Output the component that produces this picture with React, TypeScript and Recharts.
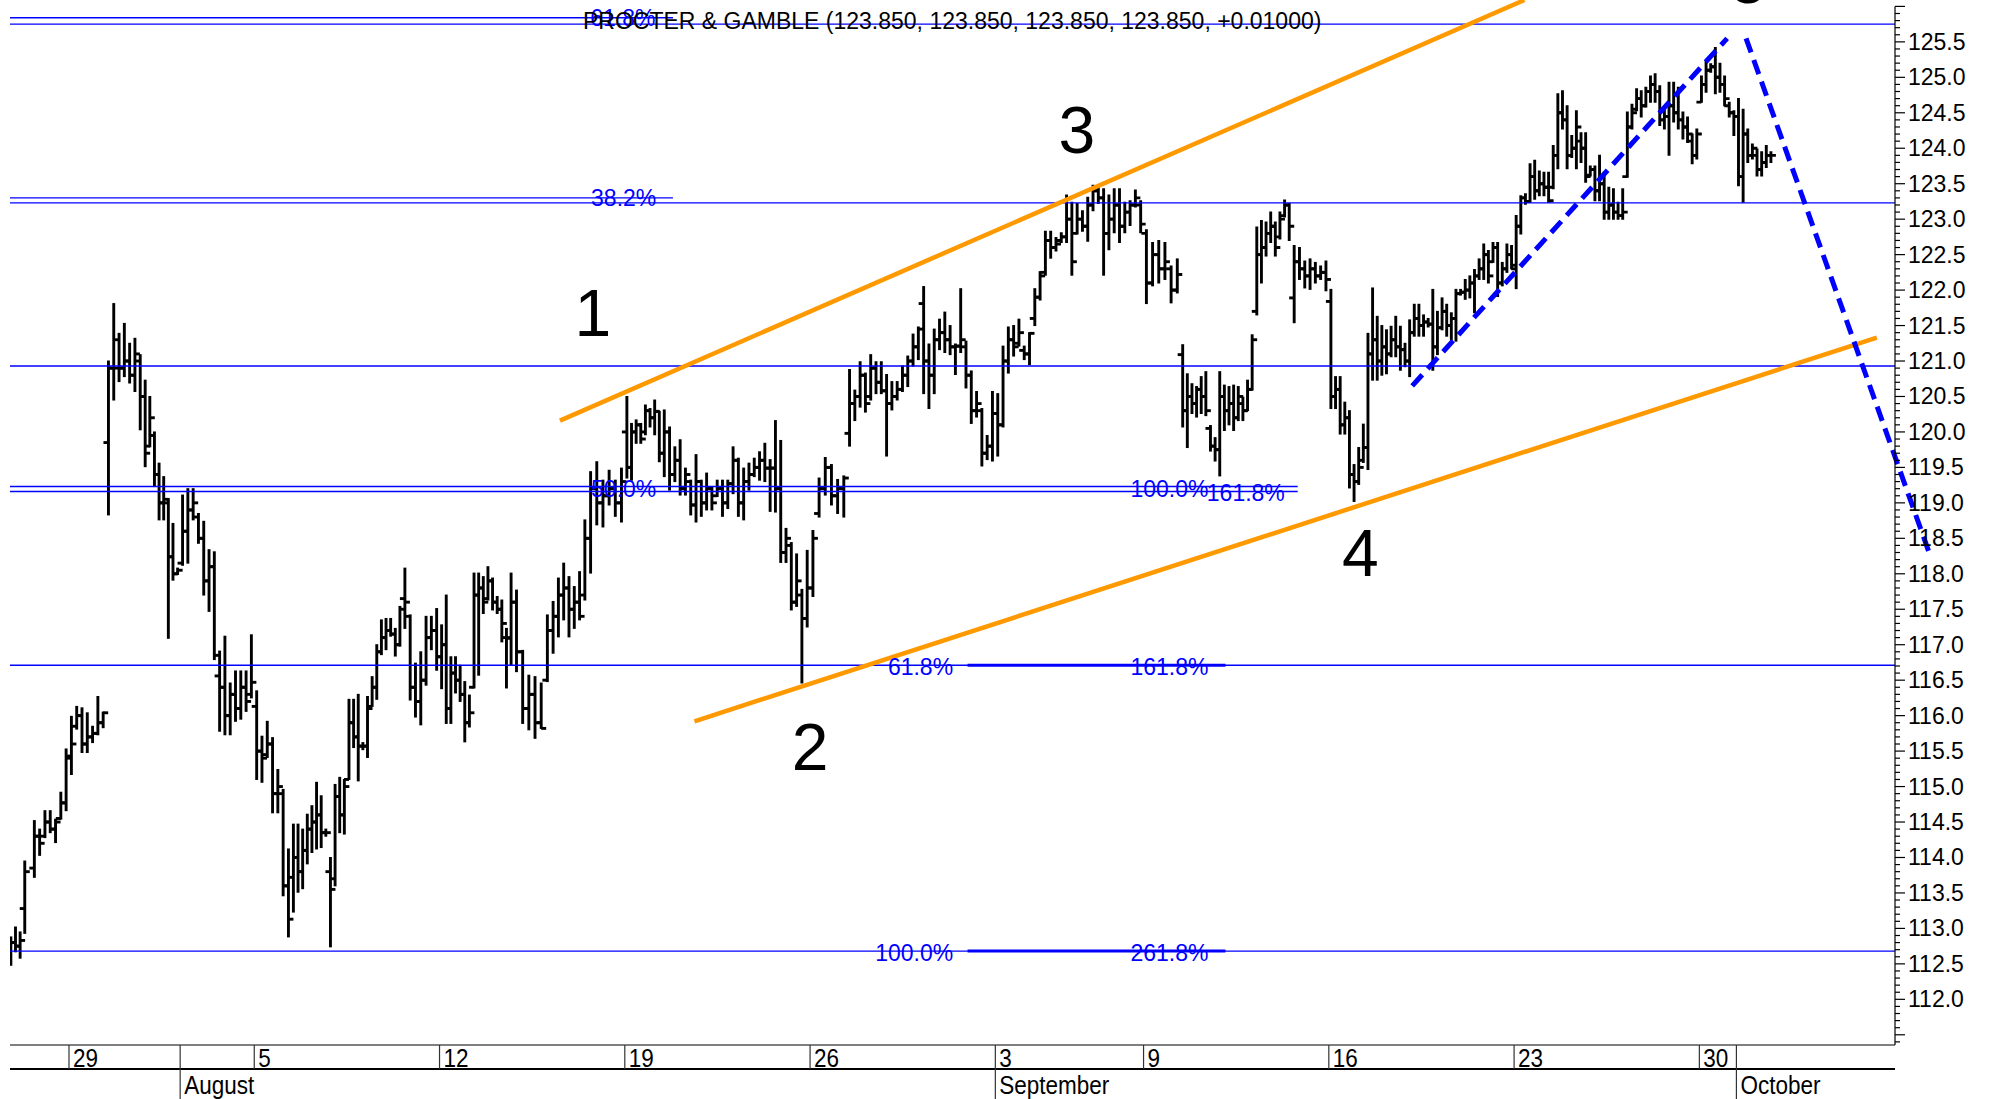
import React from 'react';
import {
  ComposedChart,
  Bar,
  XAxis,
  YAxis,
  ReferenceLine,
  ReferenceDot,
} from 'recharts';

type Ohlc = [number, number, number, number]; // open, high, low, close

// ~hourly bars per trading day
const jul25: Ohlc[] = [
  [112.55, 112.88, 112.48, 112.8], [112.8, 113.02, 112.67, 112.75], [112.75, 112.95, 112.58, 112.83],
  [113.28, 113.95, 112.93, 113.8],
];
const jul26: Ohlc[] = [
  [113.85, 114.52, 113.72, 114.3], [114.3, 114.4, 114.03, 114.2], [114.3, 114.66, 114.28, 114.5],
  [114.5, 114.66, 114.35, 114.4], [114.4, 114.54, 114.21, 114.5], [114.55, 114.92, 114.54, 114.77],
  [114.77, 115.53, 114.66, 115.43],
];
const jul29: Ohlc[] = [
  [115.4, 115.99, 115.17, 115.6], [115.85, 116.13, 115.81, 116.0], [116.0, 116.11, 115.48, 115.6],
  [115.6, 116.04, 115.48, 115.7], [115.7, 115.85, 115.62, 115.75], [115.75, 116.27, 115.73, 115.9],
  [115.9, 116.05, 115.83, 116.04],
];
const jul30: Ohlc[] = [
  [119.85, 121.0, 118.83, 120.9], [120.9, 121.81, 120.45, 120.9], [121.3, 121.39, 120.71, 120.9],
  [120.9, 121.53, 120.78, 121.0], [121.0, 121.25, 120.69, 120.8], [120.8, 121.32, 120.57, 121.1],
  [121.0, 121.09, 120.03, 120.5],
];
const jul31: Ohlc[] = [
  [120.5, 120.73, 119.51, 119.7], [119.8, 120.5, 119.79, 120.2], [119.95, 120.0, 119.23, 119.4],
  [119.4, 119.56, 118.76, 119.0], [119.0, 119.37, 118.76, 119.05], [119.0, 119.06, 117.09, 118.24],
  [118.24, 118.71, 117.91, 118.0], [118.0, 118.08, 117.99, 118.05],
];
const aug1: Ohlc[] = [
  [118.15, 119.11, 118.12, 118.6], [118.6, 119.2, 118.15, 118.9], [118.9, 119.2, 118.76, 119.0],
  [118.8, 118.85, 118.43, 118.5], [118.5, 118.74, 117.7, 117.9], [117.9, 118.34, 117.47, 118.1],
  [118.1, 118.31, 116.79, 116.85],
];
const aug2: Ohlc[] = [
  [116.56, 116.91, 115.78, 116.4], [116.4, 117.12, 115.73, 116.0], [116.0, 116.46, 115.73, 116.3],
  [116.3, 116.63, 115.92, 116.1], [116.1, 116.63, 115.95, 116.4], [116.4, 116.63, 116.06, 116.2],
  [116.3, 117.14, 116.25, 116.47],
];
const aug5: Ohlc[] = [
  [116.13, 116.35, 115.1, 115.5], [115.5, 115.71, 115.06, 115.4], [115.45, 115.92, 115.41, 115.6],
  [115.6, 115.69, 114.63, 114.9], [114.9, 115.24, 114.63, 115.0], [114.9, 114.96, 113.46, 113.6],
  [113.6, 114.12, 112.88, 113.13],
];
const aug6: Ohlc[] = [
  [113.72, 114.47, 113.23, 114.0], [114.0, 114.47, 113.51, 113.8], [113.8, 114.4, 113.56, 114.1],
  [114.1, 114.61, 113.91, 114.4], [114.4, 114.73, 114.07, 114.5], [114.5, 115.06, 114.12, 114.6],
  [114.6, 114.87, 114.14, 114.35], [114.35, 114.4, 114.3, 114.35],
];
const aug7: Ohlc[] = [
  [113.8, 114.0, 112.74, 113.55], [113.7, 115.03, 113.6, 114.86], [114.86, 115.13, 114.35, 114.6],
  [114.6, 115.1, 114.33, 115.0], [115.1, 116.23, 115.1, 115.9], [115.9, 116.23, 115.55, 115.7],
  [115.7, 116.3, 115.08, 115.57], [115.57, 115.62, 115.52, 115.57],
];
const aug8: Ohlc[] = [
  [115.57, 116.27, 115.41, 116.1], [116.13, 116.55, 116.13, 116.4], [116.4, 117.0, 116.23, 116.9],
  [116.9, 117.35, 116.86, 117.1], [117.1, 117.37, 116.93, 117.2], [117.2, 117.37, 117.12, 117.15],
  [117.15, 117.23, 116.84, 117.0], [117.0, 117.54, 116.98, 117.5],
];
const aug9: Ohlc[] = [
  [117.65, 118.08, 117.23, 117.6], [117.4, 117.42, 116.22, 116.4], [116.4, 116.74, 115.98, 116.2],
  [116.2, 116.9, 115.87, 116.5], [116.5, 117.4, 116.43, 117.1], [117.1, 117.4, 116.93, 117.2],
  [117.2, 117.51, 116.64, 116.83],
];
const aug12: Ohlc[] = [
  [116.83, 117.28, 116.38, 117.0], [117.0, 117.7, 115.89, 116.1], [116.1, 116.83, 115.89, 116.6],
  [116.6, 116.83, 116.32, 116.5], [116.5, 116.71, 116.2, 116.3], [116.3, 116.48, 115.63, 115.9],
  [115.9, 116.29, 115.84, 116.04], [116.4, 118.01, 116.39, 117.7],
];
const aug13: Ohlc[] = [
  [117.7, 118.01, 116.57, 117.8], [117.8, 117.96, 117.44, 117.6], [117.65, 118.1, 117.63, 117.9],
  [117.9, 117.94, 117.49, 117.6], [117.6, 117.68, 117.44, 117.5], [117.5, 117.63, 117.04, 117.3],
  [117.1, 117.23, 116.39, 117.09], [117.1, 118.01, 116.71, 117.6],
];
const aug14: Ohlc[] = [
  [117.6, 117.77, 116.62, 116.9], [116.9, 116.92, 115.89, 116.1], [116.1, 116.57, 115.8, 116.3],
  [116.3, 116.55, 115.68, 115.9], [115.9, 116.46, 115.82, 115.82], [116.5, 117.42, 116.48, 117.2],
];
const aug15: Ohlc[] = [
  [117.2, 117.61, 116.88, 117.4], [117.4, 117.94, 117.11, 117.7], [117.7, 118.15, 117.35, 117.8],
  [117.8, 117.96, 117.11, 117.5], [117.5, 117.82, 117.23, 117.6], [117.6, 118.03, 117.35, 117.4],
  [117.7, 118.76, 117.63, 118.5],
];
const aug16: Ohlc[] = [
  [118.5, 119.44, 118.01, 119.2], [119.2, 119.58, 118.69, 119.0], [119.0, 119.32, 118.66, 119.1],
  [119.1, 119.46, 118.97, 119.2], [119.2, 119.32, 118.81, 119.0], [119.0, 119.49, 118.73, 119.3],
];
const aug19: Ohlc[] = [
  [120.0, 120.5, 119.35, 119.5], [119.5, 120.12, 119.32, 120.0], [120.0, 120.17, 119.84, 120.1],
  [120.1, 120.12, 119.84, 119.9], [120.0, 120.38, 119.96, 120.3], [120.3, 120.33, 120.07, 120.2],
  [120.2, 120.45, 119.96, 120.29], [120.29, 120.29, 119.58, 119.7],
];
const aug20: Ohlc[] = [
  [119.7, 120.31, 119.37, 120.0], [120.0, 120.07, 119.18, 119.4], [119.4, 119.79, 119.3, 119.6],
  [119.6, 119.89, 119.11, 119.2], [119.2, 119.49, 119.11, 119.4], [119.3, 119.32, 118.83, 118.97],
  [118.97, 119.68, 118.73, 119.3],
];
const aug21: Ohlc[] = [
  [119.3, 119.32, 118.81, 119.0], [119.0, 119.42, 118.9, 119.2], [119.2, 119.23, 118.9, 119.0],
  [119.1, 119.32, 119.09, 119.2], [119.2, 119.32, 118.81, 119.0], [119.0, 119.32, 118.92, 119.27],
  [119.27, 119.79, 119.13, 119.6],
];
const aug22: Ohlc[] = [
  [119.6, 119.63, 118.81, 119.0], [119.0, 119.49, 118.76, 119.3], [119.3, 119.56, 119.18, 119.4],
  [119.4, 119.63, 119.37, 119.5], [119.5, 119.72, 119.32, 119.6], [119.6, 119.84, 119.3, 119.49],
  [119.49, 119.61, 118.88, 119.49],
];
const aug23: Ohlc[] = [
  [119.49, 120.16, 118.87, 119.2], [119.2, 119.88, 118.16, 118.3], [118.3, 118.64, 118.16, 118.5],
  [118.4, 118.44, 117.49, 117.6], [117.6, 118.28, 117.54, 117.9], [117.7, 117.78, 116.46, 117.37],
  [117.37, 118.33, 117.25, 117.8],
];
const aug26: Ohlc[] = [
  [117.8, 118.61, 117.68, 118.5], [118.85, 119.35, 118.8, 119.2], [119.2, 119.64, 119.11, 119.5],
  [119.5, 119.54, 118.97, 119.1], [119.1, 119.33, 118.85, 119.2], [119.2, 119.38, 118.8, 119.35],
];
const aug27: Ohlc[] = [
  [119.98, 120.88, 119.8, 120.4], [120.4, 120.59, 120.16, 120.5], [120.5, 120.99, 120.35, 120.8],
  [120.8, 120.83, 120.28, 120.4], [120.5, 121.09, 120.45, 120.9], [120.9, 120.99, 120.54, 120.7],
  [120.7, 120.99, 120.54, 120.58],
];
const aug28: Ohlc[] = [
  [120.58, 120.81, 119.66, 120.4], [120.4, 120.71, 120.31, 120.5], [120.5, 120.71, 120.45, 120.6],
  [120.6, 120.93, 120.57, 120.8], [120.8, 121.07, 120.64, 121.0], [121.0, 121.38, 120.93, 121.2],
  [121.2, 121.48, 121.02, 121.45],
];
const aug29: Ohlc[] = [
  [121.81, 122.05, 120.54, 121.0], [121.0, 121.24, 120.33, 120.8], [120.8, 121.45, 120.54, 121.3],
  [121.3, 121.59, 121.16, 121.4], [121.4, 121.69, 121.12, 121.3], [121.3, 121.5, 121.09, 121.2],
  [121.2, 121.24, 120.81, 121.21],
];
const aug30: Ohlc[] = [
  [121.21, 122.02, 121.12, 121.3], [121.2, 121.28, 120.62, 120.8], [120.8, 120.86, 120.12, 120.3],
  [120.3, 120.57, 120.21, 120.4], [120.3, 120.33, 119.52, 119.7], [119.7, 119.95, 119.61, 119.8],
  [119.8, 120.57, 119.59, 120.26],
];
const sep3: Ohlc[] = [
  [120.26, 120.54, 119.66, 120.1], [120.1, 121.21, 120.07, 121.0], [121.0, 121.48, 120.83, 121.3],
  [121.3, 121.5, 121.07, 121.2], [121.25, 121.59, 121.21, 121.4], [121.15, 121.21, 121.02, 121.1],
  [121.1, 121.4, 120.95, 121.39],
];
const sep4: Ohlc[] = [
  [121.6, 122.02, 121.5, 121.9], [121.9, 122.26, 121.86, 122.2], [122.25, 122.83, 122.21, 122.7],
  [122.7, 122.83, 122.45, 122.6], [122.6, 122.74, 122.55, 122.65], [122.7, 122.81, 122.67, 122.75],
  [122.75, 123.34, 122.67, 123.0],
];
const sep5: Ohlc[] = [
  [123.0, 123.24, 122.21, 122.4], [122.8, 123.22, 122.79, 123.0], [123.0, 123.12, 122.83, 122.9],
  [122.9, 123.31, 122.69, 123.2], [123.2, 123.48, 123.12, 123.4], [123.4, 123.45, 123.22, 123.3],
  [123.3, 123.43, 122.21, 122.8],
];
const sep6: Ohlc[] = [
  [122.8, 123.34, 122.57, 123.0], [123.0, 123.43, 122.81, 123.2], [123.2, 123.43, 122.67, 122.9],
  [122.9, 123.24, 122.81, 123.1], [123.1, 123.26, 122.91, 123.2], [123.2, 123.41, 123.17, 123.3],
  [123.2, 123.26, 122.81, 122.93],
];
const sep9: Ohlc[] = [
  [122.8, 122.85, 121.81, 122.1], [122.1, 122.67, 122.06, 122.5], [122.5, 122.7, 122.1, 122.3],
  [122.3, 122.67, 122.15, 122.4], [122.3, 122.34, 121.82, 122.0], [122.0, 122.44, 121.96, 122.22],
];
const sep10: Ohlc[] = [
  [121.09, 121.23, 120.07, 120.3], [120.3, 120.82, 119.78, 120.5], [120.5, 120.68, 120.26, 120.4],
  [120.4, 120.64, 120.21, 120.6], [120.6, 120.78, 120.26, 120.5], [120.5, 120.85, 120.23, 120.3],
  [120.05, 120.09, 119.73, 119.8], [119.8, 119.92, 119.59, 119.75],
];
const sep11: Ohlc[] = [
  [119.75, 120.85, 119.38, 120.5], [120.5, 120.66, 120.02, 120.3], [120.3, 120.64, 120.1, 120.4],
  [120.4, 120.66, 120.02, 120.2], [120.2, 120.64, 120.16, 120.5], [120.4, 120.49, 120.16, 120.3],
  [120.3, 120.73, 120.3, 120.6], [120.6, 121.37, 120.59, 121.3],
];
const sep12: Ohlc[] = [
  [121.7, 122.89, 121.65, 122.5], [122.5, 122.98, 122.1, 122.6], [122.6, 122.96, 122.48, 122.8],
  [122.8, 123.1, 122.67, 122.9], [122.9, 122.96, 122.48, 122.6], [122.75, 123.1, 122.72, 123.0],
  [123.05, 123.27, 123.03, 123.2], [123.2, 123.22, 122.7, 122.9],
];
const sep13: Ohlc[] = [
  [121.89, 122.63, 121.54, 122.4], [122.4, 122.6, 122.15, 122.3], [122.3, 122.41, 122.03, 122.2],
  [122.2, 122.44, 122.01, 122.3], [122.3, 122.39, 122.1, 122.2], [122.2, 122.34, 122.15, 122.25],
  [122.25, 122.41, 121.99, 122.15],
];
const sep16: Ohlc[] = [
  [121.84, 122.01, 120.33, 120.5], [120.5, 120.78, 120.33, 120.6], [120.6, 120.78, 119.97, 120.1],
  [120.1, 120.42, 119.97, 120.2], [120.2, 120.3, 119.21, 119.4], [119.4, 119.54, 119.02, 119.3],
  [119.3, 119.78, 119.26, 119.5], [119.6, 120.11, 119.57, 119.78],
];
const sep17: Ohlc[] = [
  [119.78, 121.39, 119.47, 121.1], [121.1, 122.03, 120.73, 121.3], [121.3, 121.63, 120.73, 121.0],
  [121.0, 121.5, 120.8, 121.2], [121.2, 121.44, 120.82, 121.1], [121.1, 121.49, 121.06, 121.3],
  [121.3, 121.63, 121.06, 121.2], [121.2, 121.49, 120.87, 121.16],
];
const sep18: Ohlc[] = [
  [121.16, 121.25, 120.92, 121.0], [121.0, 121.58, 120.78, 121.4], [121.4, 121.8, 121.35, 121.6],
  [121.6, 121.8, 121.35, 121.5], [121.5, 121.65, 121.35, 121.55], [121.55, 121.6, 121.48, 121.52],
  [121.52, 122.01, 120.87, 121.2], [121.2, 121.7, 121.09, 121.47],
];
const sep19: Ohlc[] = [
  [121.47, 121.89, 121.44, 121.7], [121.7, 121.8, 121.35, 121.5], [121.5, 121.68, 121.3, 121.6],
  [121.6, 122.01, 121.28, 121.95], [121.95, 122.01, 121.93, 121.97], [121.97, 122.15, 121.87, 122.0],
  [122.0, 122.2, 121.89, 122.1], [122.1, 122.29, 121.68, 122.2],
];
const sep20: Ohlc[] = [
  [122.2, 122.44, 122.15, 122.3], [122.3, 122.65, 122.15, 122.5], [122.5, 122.56, 122.1, 122.2],
  [122.4, 122.67, 122.39, 122.6], [122.6, 122.67, 121.91, 122.1], [122.1, 122.39, 122.06, 122.3],
  [122.3, 122.65, 122.25, 122.5], [122.5, 122.63, 122.3, 122.35],
];
const sep23: Ohlc[] = [
  [122.3, 123.05, 122.02, 122.9], [122.9, 123.33, 122.79, 123.3], [123.3, 123.36, 123.21, 123.25],
  [123.25, 123.78, 123.24, 123.6], [123.6, 123.83, 123.28, 123.4], [123.4, 123.68, 123.33, 123.5],
  [123.5, 123.66, 123.33, 123.45], [123.45, 123.66, 123.24, 123.26],
];
const sep24: Ohlc[] = [
  [123.45, 124.04, 123.43, 123.9], [123.9, 124.77, 123.71, 124.5], [124.5, 124.81, 124.27, 124.4],
  [124.4, 124.6, 123.71, 123.9], [123.9, 124.18, 123.87, 124.0], [124.0, 124.53, 123.71, 124.3],
  [124.1, 124.22, 123.8, 124.0], [124.0, 124.22, 123.52, 123.6],
];
const sep25: Ohlc[] = [
  [123.62, 123.75, 123.61, 123.7], [123.7, 123.75, 123.26, 123.4], [123.4, 123.9, 123.26, 123.5],
  [123.5, 123.66, 123.0, 123.1], [123.1, 123.45, 123.0, 123.2], [123.2, 123.43, 123.0, 123.1],
  [123.1, 123.24, 123.0, 123.05], [123.05, 123.43, 123.0, 123.1],
];
const sep26: Ohlc[] = [
  [123.6, 124.51, 123.59, 124.3], [124.3, 124.62, 124.27, 124.5], [124.55, 124.84, 124.53, 124.7],
  [124.7, 124.81, 124.44, 124.6], [124.6, 124.86, 124.58, 124.8], [124.8, 125.02, 124.65, 124.9],
  [124.9, 125.05, 124.65, 124.8], [124.8, 124.88, 124.32, 124.4],
];
const sep27: Ohlc[] = [
  [124.4, 124.55, 124.27, 124.45], [124.45, 124.93, 123.9, 124.6], [124.6, 124.93, 124.37, 124.5],
  [124.5, 124.86, 124.27, 124.4], [124.4, 124.51, 124.13, 124.3], [124.3, 124.44, 124.08, 124.2],
  [124.1, 124.2, 123.78, 123.9], [123.9, 124.27, 123.85, 124.2],
];
const sep30: Ohlc[] = [
  [124.65, 125.02, 124.65, 124.9], [124.9, 125.24, 124.79, 125.1], [125.1, 125.19, 125.07, 125.15],
  [125.15, 125.42, 124.77, 125.0], [125.0, 125.2, 124.79, 124.9], [124.9, 125.02, 124.6, 124.7],
  [124.6, 124.65, 124.44, 124.5], [124.5, 124.53, 124.18, 124.45],
];
const oct1: Ohlc[] = [
  [124.45, 124.7, 123.47, 123.6], [123.6, 124.55, 123.24, 124.2], [124.2, 124.27, 123.8, 123.9],
  [123.9, 124.06, 123.85, 124.0], [123.9, 123.99, 123.61, 123.7], [123.7, 123.95, 123.61, 123.8],
  [123.8, 124.04, 123.73, 123.9], [123.9, 123.95, 123.8, 123.9],
];

// trading days in order; Jul 29 is day 0, the series starts two days before
const TRADING_DAYS: Ohlc[][] = [
  jul25, jul26, jul29, jul30, jul31, aug1, aug2, aug5, aug6, aug7, aug8, aug9,
  aug12, aug13, aug14, aug15, aug16, aug19, aug20, aug21, aug22, aug23,
  aug26, aug27, aug28, aug29, aug30, sep3, sep4, sep5, sep6,
  sep9, sep10, sep11, sep12, sep13, sep16, sep17, sep18, sep19, sep20,
  sep23, sep24, sep25, sep26, sep27, sep30, oct1,
];
const FIRST_DAY = -2;
const FIRST_SLOT = 3; // the first day is cut at the left edge
const SLOTS = 8;

// x axis (trading day numbers)
const WEEK_TICKS = [0, 5, 10, 15, 20, 25, 29, 34, 39, 44];
const WEEK_LABELS = ['29', '5', '12', '19', '26', '3', '9', '16', '23', '30'];
const MONTH_TICKS = [3, 25, 45];
const MONTH_LABELS = ['August', 'September', 'October'];

// fibonacci levels
const FIB_FULL = [125.75, 123.23, 120.93, 116.71, 112.68];
const FIB_PARTIAL: [number, number][] = [[125.84, 16.3], [123.3, 16.3], [119.23, 33.16], [119.16, 33.16]];
const FIB_BOLD: [number, number, number][] = [[116.71, 24.25, 31.21], [112.68, 24.25, 31.21]];
const FIB_LABELS: [string, number, number][] = [
  ['61.8%', 14.95, 125.84], ['38.2%', 14.97, 123.3], ['50.0%', 14.97, 119.2],
  ['61.8%', 22.98, 116.69], ['161.8%', 29.7, 116.69],
  ['100.0%', 22.81, 112.66], ['261.8%', 29.7, 112.66],
  ['100.0%', 29.7, 119.2], ['161.8%', 31.76, 119.14],
];

// trend lines [day, price]
const CHANNEL_UPPER: [number, number][] = [[13.25, 120.16], [39.28, 126.09]];
const CHANNEL_LOWER: [number, number][] = [[16.88, 115.92], [48.79, 121.33]];
const DASH_UP: [number, number][] = [[36.25, 120.65], [44.75, 125.55]];
const DASH_DOWN: [number, number][] = [[45.26, 125.55], [50.2, 118.3]];

const WAVES: [string, number, number][] = [
  ['1', 14.14, 121.67], ['2', 20.0, 115.56], ['3', 27.2, 124.26], ['4', 34.85, 118.3], ['5', 45.33, 126.37],
];

const TITLE = 'PROCTER & GAMBLE (123.850, 123.850, 123.850, 123.850, +0.01000)';

const W = 1991;
const H = 1099;
const X_MIN = -1.592;
const X_MAX = 49.28;
const Y_MIN = 111.356;
const Y_MAX = 126.0;
const AXIS_X = 1895;
const ROW1_TOP = 1045;
const ROW2_TOP = 1069;
const FONT = "'Liberation Sans', Arial, sans-serif";
const BLUE = '#0000ff';

const Y_TICKS = Array.from({ length: 147 }, (_, i) => Math.round((111.4 + i * 0.1) * 10) / 10);
const DAY_AXIS_TICKS = [...new Set([...WEEK_TICKS, ...MONTH_TICKS])].sort((a, b) => a - b);

const rows = TRADING_DAYS.flatMap((bars, d) =>
  bars.map((b, k) => {
    const slot = d === 0 ? FIRST_SLOT + k + 0.5 : ((k + 0.5) * SLOTS) / bars.length;
    return { x: FIRST_DAY + d + slot / SLOTS, o: b[0], h: b[1], l: b[2], c: b[3] };
  }),
);

function OhlcShape(props: any) {
  const { x, y, width, height, payload } = props;
  if (x == null || y == null) return null;
  const top = Math.min(y, y + height);
  const span = Math.abs(height);
  const cx = x + width / 2;
  const range = payload.h - payload.l || 1;
  const py = (v: number) => top + ((payload.h - v) / range) * span;
  return (
    <g stroke="#000" strokeWidth={2.9}>
      <line x1={cx} x2={cx} y1={top - 0.5} y2={top + span + 0.5} />
      <line x1={cx - 5} x2={cx} y1={py(payload.o)} y2={py(payload.o)} />
      <line x1={cx} x2={cx + 5} y1={py(payload.c)} y2={py(payload.c)} />
    </g>
  );
}

function YTick(props: any) {
  const { y, payload } = props;
  const v = payload.value as number;
  const major = Math.abs(v * 2 - Math.round(v * 2)) < 1e-6;
  return (
    <g>
      <line x1={AXIS_X} x2={AXIS_X + (major ? 10 : 5)} y1={y} y2={y} stroke="#000" strokeWidth={1.2} />
      {major && v > 111.9 && v < 125.9 && (
        <text x={AXIS_X + 13} y={y} dominantBaseline="central" fontSize={23} fontFamily={FONT} fill="#000">
          {v.toFixed(1)}
        </text>
      )}
    </g>
  );
}

// condensed axis text, like the narrow face in the original
function NarrowText({ x, y, children }: { x: number; y: number; children: React.ReactNode }) {
  return (
    <text
      transform={`translate(${x},${y}) scale(0.9,1)`}
      dominantBaseline="central"
      fontSize={25}
      fontFamily={FONT}
      fill="#000"
    >
      {children}
    </text>
  );
}

function DayTick(props: any) {
  const { x, payload } = props;
  const i = WEEK_TICKS.indexOf(payload.value);
  return (
    <g>
      <line x1={x} x2={x} y1={ROW1_TOP} y2={ROW2_TOP} stroke="#333" strokeWidth={1.2} />
      {i >= 0 && <NarrowText x={x + 4} y={ROW1_TOP + 13}>{WEEK_LABELS[i]}</NarrowText>}
    </g>
  );
}

function MonthTick(props: any) {
  const { x, payload } = props;
  const i = MONTH_TICKS.indexOf(payload.value);
  return (
    <g>
      <line x1={x} x2={x} y1={ROW2_TOP} y2={H} stroke="#333" strokeWidth={1.2} />
      <NarrowText x={x + 4} y={ROW2_TOP + 16}>{MONTH_LABELS[i]}</NarrowText>
    </g>
  );
}

const seg = (p: [number, number][]) => p.map(([x, y]) => ({ x, y }));

export default function App() {
  return (
    <div style={{ position: 'relative', width: W, height: H, background: '#fff' }}>
      <style>{'body{margin:0;background:#fff}'}</style>
      <ComposedChart
        width={W}
        height={H}
        data={rows}
        margin={{ top: 6.4, right: 0, bottom: 0, left: 10 }}
      >
        <XAxis
          xAxisId={0}
          dataKey="x"
          type="number"
          domain={[X_MIN, X_MAX]}
          allowDataOverflow
          ticks={DAY_AXIS_TICKS}
          interval={0}
          tick={(p: any) => <DayTick {...p} />}
          tickLine={false}
          axisLine={{ stroke: '#000', strokeWidth: 1.2 }}
          height={24}
        />
        <XAxis
          xAxisId="m"
          dataKey="x"
          type="number"
          domain={[X_MIN, X_MAX]}
          allowDataOverflow
          ticks={MONTH_TICKS}
          interval={0}
          tick={(p: any) => <MonthTick {...p} />}
          tickLine={false}
          axisLine={{ stroke: '#000', strokeWidth: 2 }}
          height={30}
        />
        <YAxis
          orientation="right"
          type="number"
          domain={[Y_MIN, Y_MAX]}
          allowDataOverflow
          ticks={Y_TICKS}
          interval={0}
          tick={(p: any) => <YTick {...p} />}
          tickLine={false}
          axisLine={{ stroke: '#000', strokeWidth: 1.2 }}
          width={96}
        />

        {FIB_FULL.map((v) => (
          <ReferenceLine key={`f${v}`} y={v} stroke={BLUE} strokeWidth={1.4} ifOverflow="visible" />
        ))}
        {FIB_PARTIAL.map(([v, end]) => (
          <ReferenceLine
            key={`p${v}`}
            segment={[{ x: X_MIN, y: v }, { x: end, y: v }]}
            stroke={BLUE}
            strokeWidth={1.4}
            ifOverflow="visible"
          />
        ))}
        {FIB_BOLD.map(([v, a, b]) => (
          <ReferenceLine
            key={`b${v}`}
            segment={[{ x: a, y: v }, { x: b, y: v }]}
            stroke={BLUE}
            strokeWidth={3}
            ifOverflow="visible"
          />
        ))}
        {FIB_LABELS.map(([t, d, v], i) => (
          <ReferenceDot
            key={`l${i}`}
            x={d}
            y={v}
            r={0}
            ifOverflow="visible"
            shape={(p: any) => (
              <text x={p.cx} y={p.cy} textAnchor="middle" dominantBaseline="central" fontSize={23} fontFamily={FONT} fill={BLUE}>
                {t}
              </text>
            )}
          />
        ))}

        <Bar
          dataKey={(d: any) => [d.l, d.h]}
          barSize={5}
          shape={(p: any) => <OhlcShape {...p} />}
          isAnimationActive={false}
        />

        <ReferenceLine segment={seg(CHANNEL_UPPER)} stroke="#ff9900" strokeWidth={4.5} ifOverflow="visible" />
        <ReferenceLine segment={seg(CHANNEL_LOWER)} stroke="#ff9900" strokeWidth={4.5} ifOverflow="visible" />
        <ReferenceLine segment={seg(DASH_UP)} stroke={BLUE} strokeWidth={5} strokeDasharray="15 8" ifOverflow="visible" />
        <ReferenceLine segment={seg(DASH_DOWN)} stroke={BLUE} strokeWidth={5} strokeDasharray="15 8" ifOverflow="visible" />

        {WAVES.map(([t, d, v]) => (
          <ReferenceDot
            key={`w${t}`}
            x={d}
            y={v}
            r={0}
            ifOverflow="visible"
            shape={(p: any) => (
              <text x={p.cx} y={p.cy} textAnchor="middle" dominantBaseline="central" fontSize={66} fontFamily={FONT} fill="#000">
                {t}
              </text>
            )}
          />
        ))}
      </ComposedChart>
      <div
        style={{
          position: 'absolute',
          left: 583,
          top: 8,
          fontFamily: FONT,
          fontSize: 23,
          lineHeight: '27px',
          color: '#000',
          whiteSpace: 'nowrap',
          pointerEvents: 'none',
        }}
      >
        {TITLE}
      </div>
    </div>
  );
}
